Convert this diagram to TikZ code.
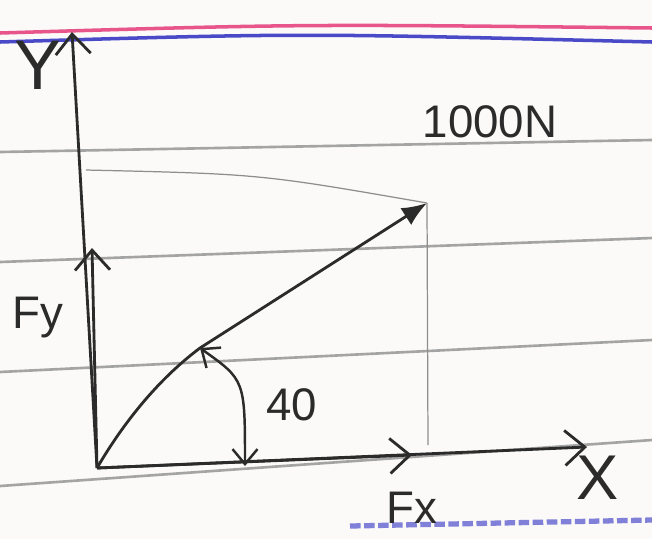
\documentclass[tikz,border=0pt]{standalone}
\usepackage{fontspec}
\setsansfont{Liberation Sans}
\usetikzlibrary{arrows.meta,positioning,calc}
\definecolor{Paper}{HTML}{FBFAF8}
\definecolor{Rule}{HTML}{8E8E8E}
\definecolor{Margin}{HTML}{E8558A}
\definecolor{Ink}{HTML}{2B2B2B}
\definecolor{Blue}{HTML}{4A4AC8}
\tikzset{
  axis/.style={Ink, line width=1.6pt, -{Straight Barb[length=4mm,width=7mm]}},
  hand/.style={Ink, font=\sffamily\fontsize{26}{28}\selectfont, inner sep=1pt},
  guide/.style={Rule, line width=0.7pt}
}

\begin{document}
\begin{tikzpicture}[x=0.02cm,y=-0.02cm]
    \useasboundingbox (0,0) rectangle (652,539);
    \fill[Paper] (0,0) rectangle (652,539);
    % ruled paper
    \draw[Margin, line width=2pt] (0,33) .. controls (300,24) .. (652,28);
    \draw[Blue, line width=2pt] (0,42) .. controls (300,33) .. (652,42);
    \foreach \l/\r in {152/140,262/238,372/340,486/440} {
      \draw[Rule!80, line width=1.5pt] (0,\l) -- (652,\r);
    }
    \draw[Blue!70, line width=3pt, dash pattern=on 6pt off 2pt] (350,526) -- (652,520);
    % points
    \coordinate (O) at (97,468);
    \coordinate (ytop) at (72,32);
    \coordinate (xend) at (587,447);
    \coordinate (fy) at (92,248);
    \coordinate (fx) at (412,455);
    \coordinate (tip) at (427,203);
    \coordinate (foot) at (428,445);
    \coordinate (proj) at (86,170);
    \coordinate (arcA) at (200,348);
    \coordinate (arcB) at (245,466);
    % axes and components
    \draw[axis] (O) -- (ytop);
    \draw[axis] (O) -- (xend);
    \draw[axis] (O) -- (fy);
    \draw[axis] (O) -- (fx);
    % force
    \draw[Ink, line width=1.6pt, -{Latex[length=5mm,width=4mm]}] (O) .. controls (118,432) and (152,384) .. (200,348) -- (tip);
    \draw[guide] (tip) -- (foot);
    \draw[guide] (proj) .. controls (260,174) .. (tip);
    % angle
    \draw[Ink, line width=1.4pt, {Straight Barb[length=3mm,width=5mm]}-{Straight Barb[length=3mm,width=5mm]}] (arcA) .. controls (245,380) .. (arcB);
    % labels
    \node[hand, font=\sffamily\fontsize{40}{40}\selectfont] (Ylab) at (38,65) {Y};
    \node[hand, font=\sffamily\fontsize{36}{36}\selectfont] (Xlab) at (598,478) {X};
    \node[hand] (Fylab) at (38,318) {Fy};
    \node[hand] (Fxlab) at (412,508) {Fx};
    \node[hand] (anglab) at (292,405) {40};
    \node[hand] (forcelab) at (490,122) {1000N};
\end{tikzpicture}
\end{document}
